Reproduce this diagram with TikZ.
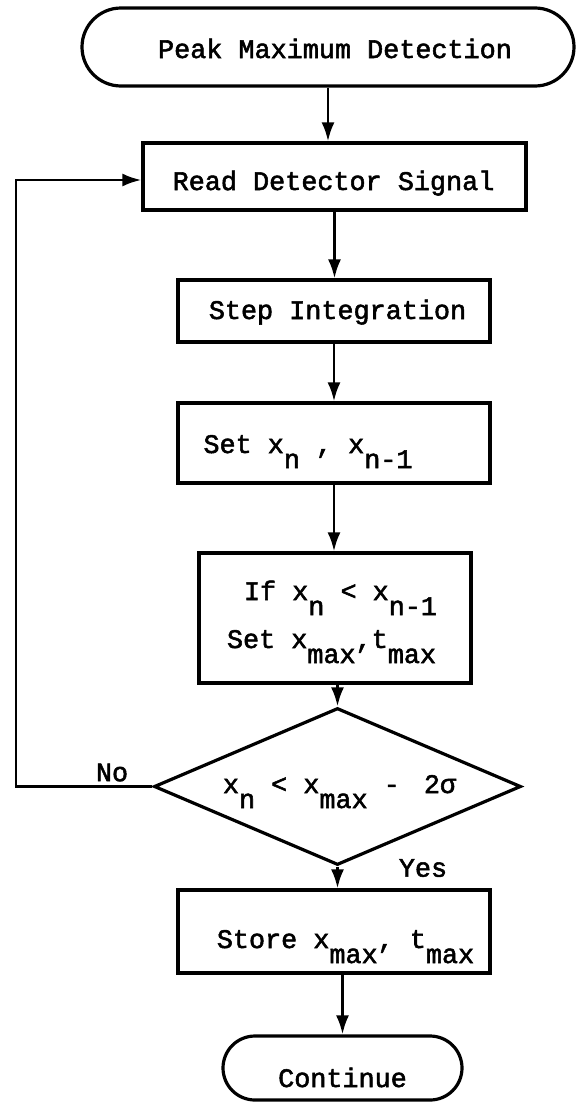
\documentclass[tikz,border=0pt]{standalone}
\usepackage{fontspec}
\setmonofont[FakeBold=2]{Liberation Mono}
\usetikzlibrary{shapes.geometric,arrows.meta}
\newcommand{\lo}[1]{\raisebox{-15pt}{#1}}
\newcommand{\placetext}[3]{\makebox[0pt]{\kern#1\raisebox{#2}[0pt][0pt]{#3}}}
\begin{document}
\begin{tikzpicture}[x=1pt,y=-1pt,
  every node/.style={font=\ttfamily\fontsize{26.8}{48}\selectfont},
  box/.style={draw,line width=3.2pt,rectangle,inner sep=0pt},
  term/.style={box},
  dec/.style={draw,line width=3.2pt,diamond,aspect=2.34,inner sep=0pt,minimum width=367pt,minimum height=157pt},
  arr/.style={draw,line width=2.8pt,-{Latex[length=19pt,width=13pt]}},
  lbl/.style={inner sep=0pt}
]
\useasboundingbox (0,0) rectangle (576,1103);
\fill[white] (0,0) rectangle (576,1103);

\node[term, rounded corners=39pt, minimum width=492pt, minimum height=78pt] (start) at (328,47)
  {\placetext{14pt}{-11pt}{Peak Maximum Detection}};
\node[box, minimum width=383pt, minimum height=67pt] (read) at (334.5,176.5)
  {\placetext{-2pt}{-13.5pt}{Read Detector Signal}};
\node[box, minimum width=312pt, minimum height=62pt] (integ) at (334,311)
  {\placetext{7pt}{-8pt}{Step Integration}};
\node[box, minimum width=312pt, minimum height=80pt] (setx) at (334,443)
  {\placetext{-52pt}{-10pt}{Set x\lo{n} , x\lo{n-1}}};
\node[box, minimum width=272pt, minimum height=130pt] (ifx) at (335,618)
  {\placetext{11pt}{18pt}{If x\lo{n} < x\lo{n-1}}\placetext{-7pt}{-30pt}{Set x\lo{max},t\lo{max}}};
\node[dec] (dec) at (337.5,786.5)
  {\placetext{4pt}{-6.5pt}{x\lo{n} < x\lo{max} -\kern8pt{} 2σ}};
\node[box, minimum width=312pt, minimum height=83pt] (store) at (334,931.5)
  {\placetext{23pt}{-16.5pt}{Store x\lo{max}, t\lo{max}}};
\node[term, rounded corners=32pt, minimum width=239pt, minimum height=64pt] (cont) at (342.5,1068)
  {\placetext{0pt}{-19pt}{Continue}};

\node[lbl] (no) at (112,772.5) {No};
\node[lbl] (yes) at (423,868) {Yes};

\coordinate (looptop) at (16,180);

\draw[arr] (start.south) -- (start.south |- read.north);
\draw[arr] (read.south) -- (read.south |- integ.north);
\draw[arr] (integ.south) -- (integ.south |- setx.north);
\draw[arr] (setx.south) -- (setx.south |- ifx.north);
\draw[arr] (ifx.south -| dec.north) -- (dec.north);
\draw[arr] (dec.south) -- (dec.south |- store.north);
\draw[arr] (store.south -| cont.north) -- (cont.north);
\draw[arr] (dec.west) -| (looptop) -- (looptop -| read.west);
\end{tikzpicture}
\end{document}
